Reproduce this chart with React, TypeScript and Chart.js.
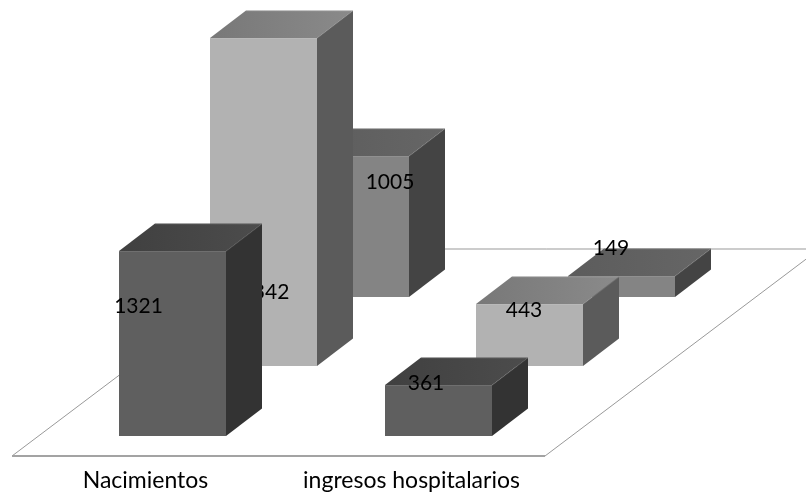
import { useEffect, useRef } from "react";
import { Chart, BarController, BarElement, CategoryScale, LinearScale } from "chart.js";

// Categories and series, front row to back row
const categories = ["Nacimientos", "ingresos hospitalarios"];
const frontRow = [1321, 361];
const middleRow = [2342, 443];
const backRow = [1005, 149];

const FONT = "Lato, Carlito, sans-serif";
const PROJECTION = { stepX: 91.5, stepY: -69.5, barDepthX: 36, barDepthY: -27.5 };
const FLOOR = { depthX: 274.5, depthY: -207, dropY: 20, insetLeft: -27.5, insetRight: -26.5 };

// Where each value label sits relative to the centre of its bar's front face
const labelShifts = [
  [[-34, -37], [-12.5, -27.5]],
  [[1.5, 90.5], [-5.5, -25]],
  [[34.5, -44.5], [-10.5, -38.5]],
];

const faces = [
  { front: "#5f5f5f", top: ["#404040", "#4c4c4c"], side: "#333333" },
  { front: "#b2b2b2", top: ["#787878", "#8a8a8a"], side: "#5b5b5b" },
  { front: "#848484", top: ["#5c5c5c", "#666666"], side: "#444444" },
];
const EDGE = "rgba(255,255,255,0.1)";

const floorPlugin = {
  id: "floor",
  beforeDatasetsDraw(chart: any) {
    const { ctx, chartArea: a } = chart;
    const y0 = a.bottom + FLOOR.dropY;
    const x0 = a.left + FLOOR.insetLeft;
    const x1 = a.right + FLOOR.insetRight;
    ctx.save();
    ctx.strokeStyle = "#999999";
    ctx.lineWidth = 1;
    ctx.beginPath();
    ctx.moveTo(x0, y0);
    ctx.lineTo(x0 + FLOOR.depthX, y0 + FLOOR.depthY);
    ctx.lineTo(x1 + FLOOR.depthX, y0 + FLOOR.depthY);
    ctx.lineTo(x1, y0);
    ctx.stroke();
    ctx.strokeStyle = "#a3a3a3";
    ctx.lineWidth = 2;
    ctx.beginPath();
    ctx.moveTo(x0, y0);
    ctx.lineTo(x1, y0);
    ctx.stroke();
    ctx.restore();
  },
};

const solidBarsPlugin = {
  id: "solidBars",
  beforeDatasetDraw(chart: any, args: any) {
    const { ctx } = chart;
    const row = args.index;
    const shade = faces[row];
    const ox = PROJECTION.stepX * row;
    const oy = PROJECTION.stepY * row;
    const bx = PROJECTION.barDepthX;
    const by = PROJECTION.barDepthY;
    const values = chart.data.datasets[row].data;

    args.meta.data.forEach((bar: any, i: number) => {
      // Snap the front face to whole pixels so neighbouring bars show no seam
      const left = Math.floor(bar.x - bar.width / 2 + ox);
      const right = Math.floor(bar.x + bar.width / 2 + ox);
      const top = Math.floor(bar.y + oy);
      const bottom = Math.floor(bar.base + oy);

      const polygon = (points: number[][]) => {
        ctx.beginPath();
        points.forEach(([x, y], k) => (k ? ctx.lineTo(x, y) : ctx.moveTo(x, y)));
        ctx.closePath();
        ctx.fill();
      };

      ctx.save();
      const topFill = ctx.createLinearGradient(left, 0, right + bx, 0);
      topFill.addColorStop(0, shade.top[0]);
      topFill.addColorStop(1, shade.top[1]);
      ctx.fillStyle = topFill;
      polygon([[left, top], [left + bx, top + by], [right + bx, top + by], [right, top]]);

      ctx.fillStyle = shade.side;
      polygon([[right, top], [right + bx, top + by], [right + bx, bottom + by], [right, bottom]]);

      ctx.fillStyle = shade.front;
      ctx.fillRect(left, top, right - left, bottom - top);

      // Faint highlight along the upper edges of the box
      ctx.strokeStyle = EDGE;
      ctx.lineWidth = 1;
      ctx.beginPath();
      ctx.moveTo(left, top + 0.5);
      ctx.lineTo(right, top + 0.5);
      ctx.lineTo(right + bx, top + by + 0.5);
      ctx.moveTo(left + bx, top + by + 0.5);
      ctx.lineTo(right + bx, top + by + 0.5);
      ctx.stroke();

      const [lx, ly] = labelShifts[row][i];
      ctx.fillStyle = "#000000";
      ctx.font = `21px ${FONT}`;
      ctx.textAlign = "center";
      ctx.textBaseline = "middle";
      ctx.fillText(String(values[i]), (left + right) / 2 + lx, (top + bottom) / 2 + ly);
      ctx.restore();
    });
    return false;
  },
};

Chart.register(BarController, BarElement, LinearScale, CategoryScale);

export default function App() {
  const ref = useRef<HTMLCanvasElement>(null);

  useEffect(() => {
    const rows = [frontRow, middleRow, backRow];
    const chart = new Chart(ref.current!, {
      type: "bar",
      data: {
        labels: categories,
        datasets: rows.map((data, i) => ({
          data,
          backgroundColor: faces[i].front,
          grouped: false,
          categoryPercentage: 1,
          barPercentage: 107 / 266,
        })),
      },
      options: {
        responsive: false,
        animation: false,
        devicePixelRatio: 1,
        layout: { padding: { left: 39.5, right: 234.5, top: 16, bottom: 0 } },
        plugins: { legend: { display: false }, tooltip: { enabled: false } },
        scales: {
          x: {
            grid: { display: false },
            border: { display: false },
            afterFit(scale: any) {
              scale.height = 57;
            },
            ticks: {
              color: "#000000",
              padding: 23,
              labelOffset: -27,
              maxRotation: 0,
              autoSkip: false,
              font: { family: FONT, size: 23 },
            },
          },
          y: { display: false, min: 0, max: 3000 },
        },
      } as any,
      plugins: [floorPlugin, solidBarsPlugin],
    });
    return () => chart.destroy();
  }, []);

  return (
    <div style={{ position: "absolute", left: 0, top: 0, width: 806, height: 493, overflow: "hidden", background: "#ffffff" }}>
      <canvas ref={ref} width={806} height={493} style={{ display: "block" }} />
    </div>
  );
}
